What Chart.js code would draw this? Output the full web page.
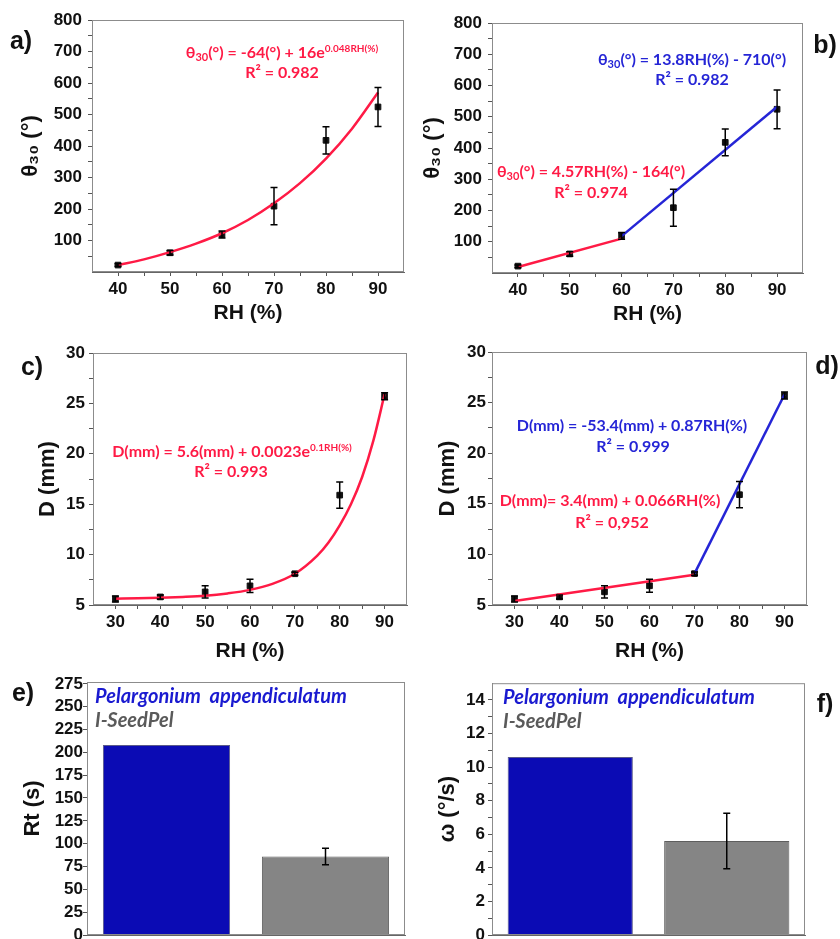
<!DOCTYPE html>
<html>
<head>
<meta charset="utf-8">
<script src="https://cdn.jsdelivr.net/npm/chart.js@4.4.1/dist/chart.umd.min.js"></script>
<style>
  body { margin: 0; background: #fff; width: 840px; height: 939px; position: relative; overflow: hidden; }
  .box { position: absolute; }
  .tag { position: absolute; font: bold 25px 'Liberation Sans', Arial, sans-serif; color: #111; transform: translate(-50%, -50%); }
  .note { position: absolute; font: bold 16px Lato, 'Open Sans', sans-serif; white-space: nowrap; transform: translate(-50%, -50%); line-height: 1; }
  .note sub { font-size: 11px; vertical-align: -3px; }
  .note sup { font-size: 10px; vertical-align: 6px; }
  .seed { position: absolute; font: italic bold 20px Lato, 'Open Sans', sans-serif; white-space: nowrap; transform: translateY(-50%); }
  .red { color: #ff1a45; }
  .blue { color: #2525d6; }
</style>
</head>
<body>
<div class="box" id="wa"><canvas id="ca"></canvas></div>
<div class="box" id="wb"><canvas id="cb"></canvas></div>
<div class="box" id="wc"><canvas id="cc"></canvas></div>
<div class="box" id="wd"><canvas id="cd"></canvas></div>
<div class="box" id="we"><canvas id="ce"></canvas></div>
<div class="box" id="wf"><canvas id="cf"></canvas></div>

<div class="tag" style="left:21px;top:40px">a)</div>
<div class="tag" style="left:825px;top:44px">b)</div>
<div class="tag" style="left:32px;top:366px">c)</div>
<div class="tag" style="left:827px;top:365px">d)</div>
<div class="tag" style="left:23px;top:692px">e)</div>
<div class="tag" style="left:825px;top:703px">f)</div>

<div class="note red" style="left:282px;top:52px">θ<sub>30</sub>(°) = -64(°) + 16e<sup>0.048RH(%)</sup></div>
<div class="note red" style="left:282px;top:72px">R² = 0.982</div>
<div class="note blue" style="left:692px;top:60px">θ<sub>30</sub>(°) = 13.8RH(%) - 710(°)</div>
<div class="note blue" style="left:692px;top:79px">R² = 0.982</div>
<div class="note red" style="left:591px;top:172px">θ<sub>30</sub>(°) = 4.57RH(%) - 164(°)</div>
<div class="note red" style="left:591px;top:192px">R² = 0.974</div>
<div class="note red" style="left:232px;top:450px">D(mm) = 5.6(mm) + 0.0023e<sup>0.1RH(%)</sup></div>
<div class="note red" style="left:231px;top:471px">R² = 0.993</div>
<div class="note blue" style="left:632px;top:425px">D(mm) = -53.4(mm) + 0.87RH(%)</div>
<div class="note blue" style="left:633px;top:446px">R² = 0.999</div>
<div class="note red" style="left:610px;top:500px">D(mm)= 3.4(mm) + 0.066RH(%)</div>
<div class="note red" style="left:612px;top:522px">R² = 0,952</div>

<div class="seed" style="left:95px;top:695px;color:#1a1ad0">Pelargonium&nbsp; appendiculatum</div>
<div class="seed" style="left:95px;top:719px;color:#5a5a5a">I-SeedPel</div>
<div class="seed" style="left:503px;top:696px;color:#1a1ad0">Pelargonium&nbsp; appendiculatum</div>
<div class="seed" style="left:503px;top:720px;color:#5a5a5a">I-SeedPel</div>

<script>
// ---- data ----
const rh = [40, 50, 60, 70, 80, 90];
const theta = [22, 61, 119, 209, 418, 524];
const thetaErr = [4, 7, 11, 59, 43, 62];

const thetaExpRh = [40, 45, 50, 55, 60, 65, 70, 75, 80, 85, 90];
const thetaExp = [22, 40, 63, 90, 123, 165, 218, 282, 360, 455, 570];
const thetaLowRh = [40, 60];
const thetaLow = [19, 110];
const thetaHighRh = [60, 90];
const thetaHigh = [118, 532];

const rhD = [30, 40, 50, 60, 70, 80, 90];
const dia = [5.6, 5.8, 6.3, 6.9, 8.1, 15.9, 25.7];
const diaErr = [0.3, 0.2, 0.6, 0.65, 0.15, 1.3, 0.35];

const diaExpRh = [30, 35, 40, 45, 50, 55, 60, 65, 70, 75, 77.5, 80, 82.5, 85, 87.5, 90];
const diaExp = [5.62, 5.66, 5.72, 5.8, 5.92, 6.15, 6.5, 7.1, 8.1, 9.9, 11.2, 12.9, 15.0, 17.7, 21.3, 25.9];
const diaLowRh = [30, 70];
const diaLow = [5.4, 8.0];
const diaHighRh = [70, 90];
const diaHigh = [8.1, 25.8];

const seeds = ['Pelargonium appendiculatum', 'I-SeedPel'];
const rt = [208, 86];
const rtErr = [0, 9];
const omega = [10.6, 5.6];
const omegaErr = [0, 1.65];

// ---- tick values ----
const thetaTicks = [50, 100, 150, 200, 250, 300, 350, 400, 450, 500, 550, 600, 650, 700, 750, 800];
const rhTicksAB = [40, 45, 50, 55, 60, 65, 70, 75, 80, 85, 90];
const diaTicks = [5, 7.5, 10, 12.5, 15, 17.5, 20, 22.5, 25, 27.5, 30];
const rhTicksCD = [30, 35, 40, 45, 50, 55, 60, 65, 70, 75, 80, 85, 90];
const rtTicks = [0, 25, 50, 75, 100, 125, 150, 175, 200, 225, 250, 275];
const omegaTicks = [0, 1, 2, 3, 4, 5, 6, 7, 8, 9, 10, 11, 12, 13, 14];

const RED = '#ff1a45';
const BLUE = '#2525d6';

Chart.defaults.font.family = "'Liberation Sans', Arial, sans-serif";
Chart.defaults.font.weight = 'bold';
Chart.defaults.color = '#111';
Chart.defaults.animation = false;

const xy = (xs, ys) => xs.map((x, i) => ({ x: x, y: ys[i] }));

const frame = {
  id: 'frame',
  afterDraw(chart) {
    const a = chart.chartArea, c = chart.ctx;
    c.save();
    c.strokeStyle = '#8c8c8c';
    c.lineWidth = 1;
    c.strokeRect(a.left + 0.5, a.top + 0.5, a.right - a.left - 1, a.bottom - a.top - 1);
    c.restore();
  }
};

const errorBars = {
  id: 'errorBars',
  afterDatasetsDraw(chart) {
    const c = chart.ctx, ys = chart.scales.y;
    chart.data.datasets.forEach((ds, i) => {
      if (!ds.errors) return;
      chart.getDatasetMeta(i).data.forEach((el, j) => {
        const e = ds.errors[j];
        if (!e) return;
        const v = typeof ds.data[j] === 'object' ? ds.data[j].y : ds.data[j];
        const top = ys.getPixelForValue(v + e), bot = ys.getPixelForValue(v - e);
        c.save();
        c.strokeStyle = '#000';
        c.lineWidth = 1.5;
        c.beginPath();
        c.moveTo(el.x, top); c.lineTo(el.x, bot);
        c.moveTo(el.x - 3.5, top); c.lineTo(el.x + 3.5, top);
        c.moveTo(el.x - 3.5, bot); c.lineTo(el.x + 3.5, bot);
        c.stroke();
        c.restore();
      });
    });
  }
};

function place(id, left, top, w, h) {
  const el = document.getElementById(id);
  el.style.left = left + 'px';
  el.style.top = top + 'px';
  el.style.width = w + 'px';
  el.style.height = h + 'px';
}

function yAxis(p) {
  return {
    type: 'linear',
    min: p.min, max: p.max,
    afterBuildTicks: s => { s.ticks = p.ticks.map(v => ({ value: v })); },
    afterFit: s => { s.width = p.w; },
    ticks: { autoSkip: false, padding: p.pad, font: { size: 17 }, callback: p.label },
    grid: { drawOnChartArea: false, drawTicks: true, tickLength: 4, color: '#555' },
    border: { display: true, color: '#666' },
    title: { display: true, text: p.title, font: { size: 22, weight: 'bold' }, padding: { top: p.tpad, bottom: 0 } }
  };
}

function xAxis(p) {
  return {
    type: 'linear',
    min: p.min, max: p.max,
    afterBuildTicks: s => { s.ticks = p.ticks.map(v => ({ value: v })); },
    afterFit: s => { s.height = p.h; },
    ticks: { autoSkip: false, maxRotation: 0, padding: 3, font: { size: 17 }, callback: v => (v % 10 === 0 ? v : '') },
    grid: { drawOnChartArea: false, drawTicks: true, tickLength: 4, color: '#555' },
    border: { display: true, color: '#666' },
    title: { display: true, text: 'RH (%)', font: { size: 21, weight: 'bold' }, padding: { top: 0, bottom: p.tpad } }
  };
}

function pointSet(xs, ys, errs) {
  return {
    type: 'line', data: xy(xs, ys), errors: errs, showLine: false,
    pointStyle: 'rect', pointRadius: 4, pointBackgroundColor: '#111', pointBorderColor: '#111', order: 2
  };
}

function lineSet(xs, ys, color, smooth) {
  return {
    type: 'line', data: xy(xs, ys), borderColor: color, borderWidth: 2.5,
    pointRadius: 0, cubicInterpolationMode: smooth ? 'monotone' : 'default', tension: 0, order: 1
  };
}

function scatterChart(canvas, datasets, pad, xa, ya) {
  return new Chart(document.getElementById(canvas), {
    type: 'line',
    data: { datasets: datasets },
    options: {
      responsive: true, maintainAspectRatio: false,
      layout: { padding: { top: pad.top, right: pad.right, left: 0, bottom: 0 } },
      plugins: { legend: { display: false }, tooltip: { enabled: false } },
      scales: { x: xAxis(xa), y: yAxis(ya) }
    },
    plugins: [errorBars, frame]
  });
}

function barChart(canvas, values, errs, pad, ya) {
  return new Chart(document.getElementById(canvas), {
    type: 'bar',
    data: {
      labels: seeds,
      datasets: [{
        data: values, errors: errs,
        backgroundColor: ['#0b0bb4', '#858585'],
        borderColor: ['#5a5a8a', '#5e5e5e'], borderWidth: 1,
        categoryPercentage: 1, barPercentage: 0.8
      }]
    },
    options: {
      responsive: true, maintainAspectRatio: false,
      layout: { padding: { top: pad.top, right: pad.right, left: 0, bottom: 0 } },
      plugins: { legend: { display: false }, tooltip: { enabled: false } },
      scales: {
        x: {
          type: 'category', afterFit: s => { s.height = pad.xh; },
          ticks: { display: false }, grid: { display: false },
          border: { display: true, color: '#666' }
        },
        y: yAxis(ya)
      }
    },
    plugins: [errorBars, frame]
  });
}

const hundreds = v => (v % 100 === 0 ? v : '');
const fives = v => (v % 5 === 0 ? v : '');
const evens = v => (v % 2 === 0 ? v : '');

// a)
place('wa', 0, 0, 420, 330);
scatterChart('ca',
  [lineSet(thetaExpRh, thetaExp, RED, true), pointSet(rh, theta, thetaErr)],
  { top: 20, right: 16 },
  { min: 35, max: 95, ticks: rhTicksAB, h: 58, tpad: 4 },
  { min: 0, max: 800, ticks: thetaTicks, label: hundreds, w: 92, pad: 6, title: 'θ₃₀ (°)', tpad: 18 });

// b)
place('wb', 420, 0, 420, 330);
scatterChart('cb',
  [lineSet(thetaLowRh, thetaLow, RED, false), lineSet(thetaHighRh, thetaHigh, BLUE, false), pointSet(rh, theta, thetaErr)],
  { top: 23, right: 37 },
  { min: 35, max: 95, ticks: rhTicksAB, h: 57, tpad: 3 },
  { min: 0, max: 800, ticks: thetaTicks, label: hundreds, w: 72, pad: 6, title: 'θ₃₀ (°)', tpad: 0 });

// c)
place('wc', 0, 330, 420, 340);
scatterChart('cc',
  [lineSet(diaExpRh, diaExp, RED, true), pointSet(rhD, dia, diaErr)],
  { top: 23, right: 13 },
  { min: 25, max: 95, ticks: rhTicksCD, h: 65, tpad: 6 },
  { min: 5, max: 30, ticks: diaTicks, label: fives, w: 93, pad: 4, title: 'D (mm)', tpad: 35 });

// d)
place('wd', 420, 330, 420, 340);
scatterChart('cd',
  [lineSet(diaLowRh, diaLow, RED, false), lineSet(diaHighRh, diaHigh, BLUE, false), pointSet(rhD, dia, diaErr)],
  { top: 22, right: 33 },
  { min: 25, max: 95, ticks: rhTicksCD, h: 65, tpad: 6 },
  { min: 5, max: 30, ticks: diaTicks, label: fives, w: 72, pad: 2, title: 'D (mm)', tpad: 15 });

// e)
place('we', 0, 670, 420, 280);
barChart('ce', rt, rtErr, { top: 12, right: 15, xh: 15 },
  { min: 0, max: 277, ticks: rtTicks, label: v => v, w: 87, pad: 0, title: 'Rt (s)', tpad: 20 });

// f)
place('wf', 420, 670, 420, 280);
barChart('cf', omega, omegaErr, { top: 13, right: 35, xh: 15 },
  { min: 0, max: 15, ticks: omegaTicks, label: evens, w: 72, pad: 3, title: 'ω (°/s)', tpad: 15 });
</script>
</body>
</html>
